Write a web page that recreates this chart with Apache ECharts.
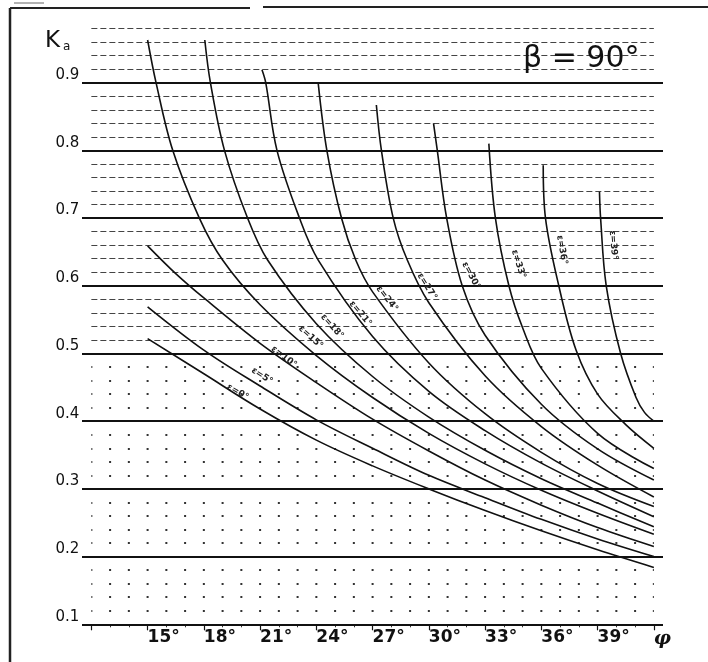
<!DOCTYPE html>
<html>
<head>
<meta charset="utf-8">
<script src="https://cdn.jsdelivr.net/npm/echarts@6/dist/echarts.min.js"></script>
<style>
html,body{margin:0;padding:0;background:#fff;}
#chart{width:708px;height:662px;}
</style>
</head>
<body>
<div id="chart"></div>
<script>
// ---------- data ----------
const kMajor = [0.1, 0.2, 0.3, 0.4, 0.5, 0.6, 0.7, 0.8, 0.9];
const phiTickLabels = ['15°', '18°', '21°', '24°', '27°', '30°', '33°', '36°', '39°'];
const curveNames = ['ε=0°', 'ε=5°', 'ε=10°', 'ε=15°', 'ε=18°', 'ε=21°', 'ε=24°', 'ε=27°', 'ε=30°', 'ε=33°', 'ε=36°', 'ε=39°'];

// [phi (deg), Ka]
const eps0  = [[15, 0.522], [18, 0.470], [21, 0.418], [24, 0.372], [27, 0.334], [30, 0.300], [33, 0.268], [36, 0.238], [39, 0.210], [42, 0.184]];
const eps5  = [[15, 0.569], [18, 0.505], [21, 0.452], [24, 0.402], [27, 0.360], [30, 0.320], [33, 0.287], [36, 0.255], [39, 0.226], [42, 0.200]];
const eps10 = [[15, 0.659], [16.5, 0.618], [18, 0.582], [21, 0.515], [24, 0.457], [27, 0.403], [30, 0.356], [33, 0.313], [36, 0.276], [39, 0.243], [42, 0.215]];
const eps15 = [[15, 0.963], [15.45, 0.9], [16.34, 0.8], [17.76, 0.7], [19, 0.638], [21, 0.572], [24, 0.497], [27, 0.435], [30, 0.382], [33, 0.337], [36, 0.298], [39, 0.264], [42, 0.233]];
const eps18 = [[18.05, 0.963], [18.35, 0.9], [19.1, 0.8], [20.33, 0.7], [21.4, 0.638], [24, 0.544], [27, 0.466], [30, 0.406], [33, 0.357], [36, 0.315], [39, 0.279], [42, 0.244]];
const eps21 = [[21.1, 0.919], [21.3, 0.9], [21.9, 0.8], [23.1, 0.7], [24.1, 0.638], [27, 0.525], [30, 0.444], [33, 0.386], [36, 0.338], [39, 0.297], [42, 0.259]];
const eps24 = [[24.1, 0.899], [24.56, 0.8], [25.34, 0.7], [26.1, 0.638], [27, 0.591], [30, 0.486], [33, 0.411], [36, 0.354], [39, 0.308], [42, 0.274]];
const eps27 = [[27.2, 0.867], [27.47, 0.8], [28.1, 0.7], [28.85, 0.638], [30, 0.575], [33, 0.467], [36, 0.392], [39, 0.335], [42, 0.288]];
const eps30 = [[30.25, 0.840], [30.45, 0.8], [30.95, 0.7], [31.78, 0.6], [33, 0.527], [36, 0.425], [39, 0.359], [42, 0.313]];
const eps33 = [[33.2, 0.810], [33.55, 0.7], [34.27, 0.6], [35, 0.538], [36, 0.478], [39, 0.382], [42, 0.330]];
const eps36 = [[36.1, 0.778], [36.22, 0.7], [36.93, 0.6], [37.85, 0.505], [39, 0.440], [40.5, 0.395], [42, 0.360]];
const eps39 = [[39.1, 0.739], [39.16, 0.7], [39.46, 0.6], [40.23, 0.5], [41.05, 0.435], [41.5, 0.413], [42, 0.400]];

// where each curve's name is written, in data coordinates [phi, Ka]
const labelAt = [[19.8, 0.443], [21.1, 0.467], [22.27, 0.495], [23.7, 0.524], [24.84, 0.540], [26.35, 0.559], [27.77, 0.581], [29.9, 0.599], [32.25, 0.615], [34.78, 0.632], [37.1, 0.653], [39.84, 0.660]];

// ---------- styling ----------
const curves = [eps0, eps5, eps10, eps15, eps18, eps21, eps24, eps27, eps30, eps33, eps36, eps39];
const labelRotate = [-30, -33, -37, -42, -48, -50, -52, -58, -62, -72, -80, -85];
const INK = '#111';

const G = { left: 91.35, right: 54.15, top: 28.5, bottom: 37.7 };
const yHalf = 353.5; // pixel row of Ka = 0.5

const chart = echarts.init(document.getElementById('chart'), null, { renderer: 'canvas' });

const series = curves.map((pts, i) => ({
  type: 'line',
  name: curveNames[i],
  xAxisIndex: 0, yAxisIndex: 0,
  data: pts,
  showSymbol: false,
  smooth: 0.35,
  lineStyle: { color: INK, width: 1.6 },
  z: 5,
  markPoint: {
    silent: true,
    symbol: 'circle', symbolSize: 0,
    label: {
      show: true, position: 'inside',
      formatter: curveNames[i],
      rotate: labelRotate[i],
      fontSize: 9, fontWeight: 'bold', color: '#222',
      fontFamily: 'DejaVu Sans'
    },
    data: [{ coord: labelAt[i] }]
  }
}));

series.push({
  type: 'line', xAxisIndex: 1, yAxisIndex: 1,
  data: [[0, 0.1]], showSymbol: false, lineStyle: { opacity: 0 },
  z: 4,
  markLine: {
    silent: true, symbol: 'none', animation: false,
    label: { show: false },
    lineStyle: { color: INK, width: 1.9, type: 'solid' },
    data: kMajor.map(v => ({ yAxis: v }))
  }
});

const hiddenX = (gi) => ({ type: 'value', gridIndex: gi, min: 0, max: 1, show: false });

const option = {
  animation: false,
  backgroundColor: '#fff',
  grid: [
    { left: G.left, right: G.right, top: G.top, bottom: G.bottom },
    { left: 82, right: 45, top: G.top, bottom: G.bottom },
    { left: G.left, right: G.right, top: G.top, bottom: 662 - yHalf },
    { left: G.left, right: G.right, top: yHalf, bottom: G.bottom }
  ],
  xAxis: [
    {
      type: 'value', gridIndex: 0, min: 12, max: 42, interval: 3,
      axisLine: { show: false },
      axisTick: { show: true, inside: false, length: 6, lineStyle: { color: INK, width: 1.2 } },
      minorTick: { show: true, splitNumber: 3, length: 3, lineStyle: { color: '#333', width: 1 } },
      splitLine: { show: false },
      axisLabel: {
        show: true, align: 'left', margin: 5,
        fontSize: 17, fontWeight: 'bold', color: INK, fontFamily: 'DejaVu Sans',
        formatter: (v) => {
          const i = Math.round((v - 15) / 3);
          if (Math.abs(v - 42) < 1e-6) return '{phi|φ}';
          return (i >= 0 && i < phiTickLabels.length) ? phiTickLabels[i] : '';
        },
        rich: { phi: { fontSize: 19, fontStyle: 'italic', fontWeight: 'bold', color: INK, fontFamily: 'DejaVu Serif' } }
      }
    },
    hiddenX(1), hiddenX(2), hiddenX(3)
  ],
  yAxis: [
    {
      type: 'value', gridIndex: 0, min: 0.1, max: 0.98, interval: 0.1,
      axisLine: { show: false }, axisTick: { show: false }, splitLine: { show: false },
      axisLabel: {
        show: true, margin: 12, fontSize: 15, color: INK, fontFamily: 'DejaVu Sans',
        verticalAlign: 'bottom', lineHeight: 15,
        formatter: (v) => {
          const r = Math.round(v * 10) / 10;
          return (Math.abs(r - v) < 1e-6 && r <= 0.9) ? r.toFixed(1) : '';
        }
      }
    },
    { type: 'value', gridIndex: 1, min: 0.1, max: 0.98, show: false },
    {
      type: 'value', gridIndex: 2, min: 0.5, max: 0.98, interval: 0.02,
      axisLine: { show: false }, axisTick: { show: false }, axisLabel: { show: false },
      splitLine: { show: true, lineStyle: { color: '#444', width: 1.2, type: [6, 3] } }
    },
    {
      type: 'value', gridIndex: 3, min: 0.1, max: 0.5, interval: 0.02,
      axisLine: { show: false }, axisTick: { show: false }, axisLabel: { show: false },
      splitLine: { show: true, lineStyle: { color: '#333', width: 1.8, type: [2, 16.75], dashOffset: 1 } }
    }
  ],
  graphic: [
    { type: 'line', shape: { x1: 10, y1: 8, x2: 10, y2: 662 }, style: { stroke: '#222', lineWidth: 2.5 } },
    { type: 'line', shape: { x1: 10, y1: 8, x2: 250, y2: 8 }, style: { stroke: '#222', lineWidth: 2 } },
    { type: 'line', shape: { x1: 263, y1: 7, x2: 708, y2: 7 }, style: { stroke: '#222', lineWidth: 2 } },
    { type: 'line', shape: { x1: 14, y1: 3, x2: 44, y2: 3 }, style: { stroke: '#666', lineWidth: 1 } },
    {
      type: 'text', left: 45, top: 30, z: 10,
      style: {
        text: '{k|K}{s|a}',
        rich: {
          k: { fontSize: 23, fontFamily: 'DejaVu Sans', fill: INK, verticalAlign: 'bottom' },
          s: { fontSize: 12, fontFamily: 'DejaVu Sans', fill: INK, verticalAlign: 'bottom', padding: [0, 0, 0, 3] }
        }
      }
    },
    {
      type: 'text', left: 523, top: 44, z: 10,
      style: { text: 'β = 90°', fontSize: 30, fontFamily: 'DejaVu Sans', fill: INK }
    }
  ],
  series: series
};

chart.setOption(option);
</script>
</body>
</html>
